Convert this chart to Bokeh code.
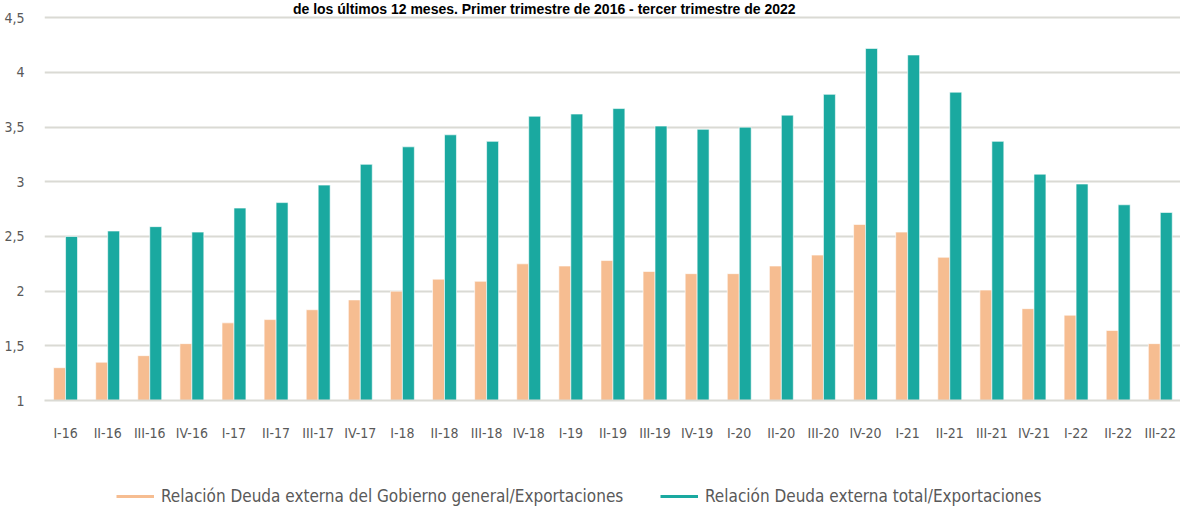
import numpy as np
from bokeh.plotting import figure
from bokeh.layouts import column
from bokeh.models import (Range1d, FixedTicker, CustomJSTickFormatter, Legend,
                          LegendItem, Label)
from bokeh.embed import file_html
from bokeh.resources import INLINE

categories = ["I-16", "II-16", "III-16", "IV-16",
              "I-17", "II-17", "III-17", "IV-17",
              "I-18", "II-18", "III-18", "IV-18",
              "I-19", "II-19", "III-19", "IV-19",
              "I-20", "II-20", "III-20", "IV-20",
              "I-21", "II-21", "III-21", "IV-21",
              "I-22", "II-22", "III-22"]

gobierno = [1.30, 1.35, 1.41, 1.52,
            1.71, 1.74, 1.83, 1.92,
            2.00, 2.11, 2.09, 2.25,
            2.23, 2.28, 2.18, 2.16,
            2.16, 2.23, 2.33, 2.61,
            2.54, 2.31, 2.01, 1.84,
            1.78, 1.64, 1.52]

total = [2.50, 2.55, 2.59, 2.54,
         2.76, 2.81, 2.97, 3.16,
         3.32, 3.43, 3.37, 3.60,
         3.62, 3.67, 3.51, 3.48,
         3.50, 3.61, 3.80, 4.22,
         4.16, 3.82, 3.37, 3.07,
         2.98, 2.79, 2.72]

y_ticks = [1, 1.5, 2, 2.5, 3, 3.5, 4, 4.5]

label_gob = "Relación Deuda externa del Gobierno general/Exportaciones"
label_tot = "Relación Deuda externa total/Exportaciones"
title_text = "de los últimos 12 meses. Primer trimestre de 2016 - tercer trimestre de 2022"

ORANGE = "#f6bd91"
TEAL = "#1aa9a0"
GRID = "#dadad4"
TXT = "#595959"
NARROW = "'DejaVu Sans Condensed', 'Liberation Sans Narrow', Roboto"

idx = np.arange(len(categories))
bw = 0.284

p = figure(width=1180, height=466, output_backend="svg", toolbar_location=None,
           x_range=Range1d(-0.5, 26.48), y_range=Range1d(1, 4.6584),
           min_border_left=44, min_border_right=0, min_border_top=0,
           min_border_bottom=66)
p.outline_line_color = None
p.background_fill_color = "white"
p.border_fill_color = "white"

p.vbar(x=idx - bw / 2, top=gobierno, bottom=1, width=bw,
       fill_color=ORANGE, line_color="white", line_alpha=0.6, line_width=1)
p.vbar(x=idx + bw / 2, top=total, bottom=1, width=bw,
       fill_color=TEAL, line_color="white", line_alpha=0.6, line_width=1)

# axes
p.xaxis.ticker = FixedTicker(ticks=list(idx))
p.xaxis.major_label_overrides = {int(i): c for i, c in zip(idx, categories)}
p.xaxis.axis_line_color = GRID
p.xaxis.axis_line_width = 2
p.xaxis.major_tick_line_color = None
p.xaxis.minor_tick_line_color = None
p.xaxis.major_label_standoff = 18
p.xaxis.major_label_text_font = NARROW
p.xaxis.major_label_text_font_size = "14px"
p.xaxis.major_label_text_color = TXT

p.yaxis.ticker = FixedTicker(ticks=y_ticks)
p.yaxis.formatter = CustomJSTickFormatter(code="return tick.toString().replace('.', ',');")
p.yaxis.axis_line_color = None
p.yaxis.major_tick_line_color = None
p.yaxis.minor_tick_line_color = None
p.yaxis.major_label_standoff = 14
p.yaxis.major_label_text_font = NARROW
p.yaxis.major_label_text_font_size = "14px"
p.yaxis.major_label_text_color = TXT

p.xgrid.grid_line_color = None
p.ygrid.ticker = FixedTicker(ticks=y_ticks)
p.ygrid.grid_line_color = GRID
p.ygrid.grid_line_width = 2

title = Label(x=11.37, y=4.652, text=title_text, text_align="center",
              text_baseline="top", text_font="Liberation Sans",
              text_font_style="bold", text_font_size="14px", text_color="black")
p.add_layout(title)

# legend strip below the chart
lg = figure(width=1180, height=40, output_backend="svg", toolbar_location=None,
            x_range=Range1d(0, 26), y_range=Range1d(0, 5),
            x_axis_location=None, y_axis_location=None,
            min_border_left=0, min_border_right=0, min_border_top=0,
            min_border_bottom=0)
lg.outline_line_color = None
lg.grid.visible = False
l_gob = lg.line(x=idx, y=gobierno, line_color=ORANGE, line_width=3, visible=False)
l_tot = lg.line(x=idx, y=total, line_color=TEAL, line_width=3, visible=False)

common = dict(orientation="horizontal", glyph_width=38, glyph_height=20,
              label_standoff=7, padding=0, margin=0, border_line_color=None,
              background_fill_alpha=0, label_text_font=NARROW,
              label_text_font_size="17px", label_text_color=TXT,
              label_height=20)
leg1 = Legend(items=[LegendItem(label=label_gob, renderers=[l_gob])],
              location=(72, 0), **common)
leg2 = Legend(items=[LegendItem(label=label_tot, renderers=[l_tot])],
              location=(616, 0), **common)
lg.add_layout(leg1, "center")
lg.add_layout(leg2, "center")

layout = column(p, lg, spacing=0)
open("out.html", "w").write(file_html(layout, INLINE))
